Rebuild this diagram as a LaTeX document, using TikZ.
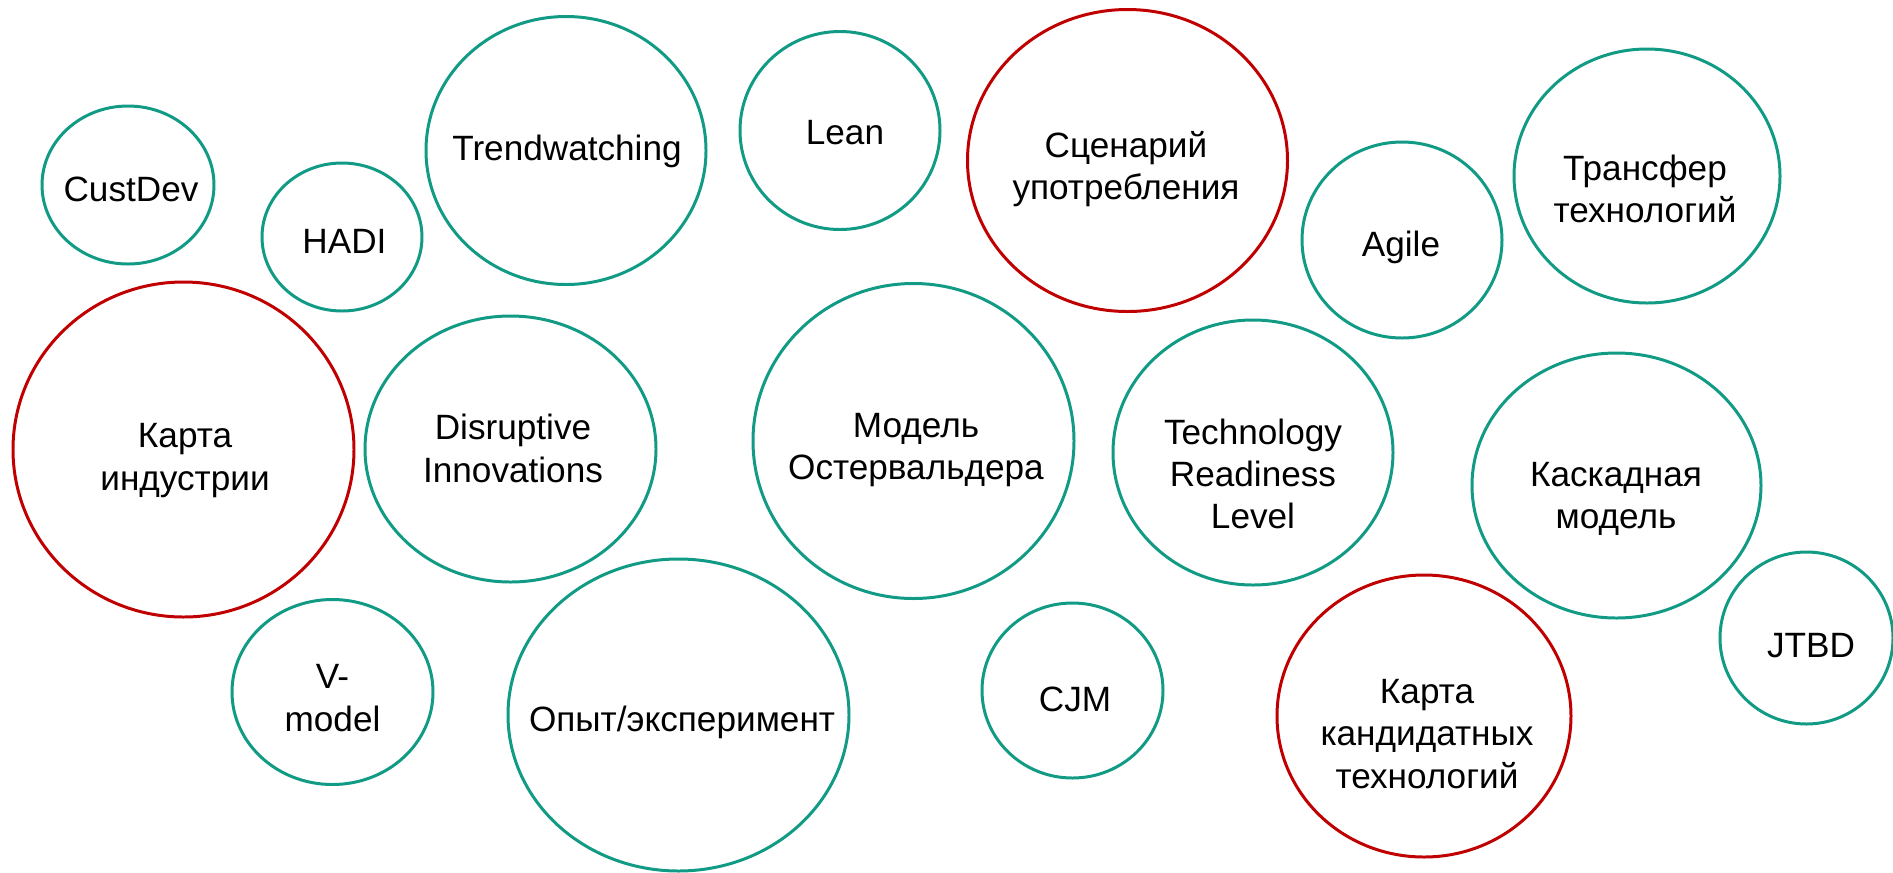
\documentclass[tikz,border=0pt]{standalone}
\usepackage{fontspec}
\setmainfont{Liberation Sans}
\definecolor{bubblegreen}{RGB}{17,154,132}
\definecolor{bubblered}{RGB}{192,0,0}

\begin{document}
\begin{tikzpicture}[x=0.01cm,y=-0.01cm,
  greenring/.style={draw=bubblegreen,line width=0.85pt},
  redring/.style={draw=bubblered,line width=0.85pt},
  word/.style={align=center,font=\fontsize{10}{12}\selectfont,inner sep=0pt}]
\useasboundingbox (0,0) rectangle (1893,872);
\draw[greenring] (128,185) ellipse (86 and 79);
\node[word] (custdev) at (131,189.5) {CustDev};
\draw[greenring] (342,237) ellipse (80 and 74);
\node[word] (hadi) at (344.5,241) {HADI};
\draw[greenring] (566,150.5) ellipse (140 and 134);
\node[word] (trend) at (567,151) {Trendwatching};
\draw[greenring] (840,130.5) ellipse (100 and 99);
\node[word] (lean) at (845,132.5) {Lean};
\draw[redring] (1127.5,160.5) ellipse (160 and 151);
\node[word] (usecase) at (1126,169) {Сценарий\\употребления};
\draw[greenring] (1402,240) ellipse (100 and 98);
\node[word] (agile) at (1401,247.5) {Agile};
\draw[greenring] (1647,176) ellipse (133 and 127);
\node[word] (transfer) at (1645,189) {Трансфер\\технологий};
\draw[redring] (183.5,449.5) ellipse (170.5 and 167.5);
\node[word] (industry) at (185,460.5) {Карта\\индустрии};
\draw[greenring] (510.5,449) ellipse (145.5 and 133);
\node[word] (disrupt) at (513,448.5) {Disruptive\\Innovations};
\draw[greenring] (913.5,441) ellipse (160.5 and 157.5);
\node[word] (canvas) at (916,450) {Модель\\Остервальдера};
\draw[greenring] (1253,452.5) ellipse (140 and 132.5);
\node[word] (trl) at (1253,474) {Technology\\Readiness\\Level};
\draw[greenring] (1616.5,485.5) ellipse (144.5 and 132.5);
\node[word] (waterfall) at (1616,499) {Каскадная\\модель};
\draw[greenring] (1806.5,638) ellipse (86.5 and 86);
\node[word] (jtbd) at (1811,645.5) {JTBD};
\draw[greenring] (332.5,692) ellipse (100.5 and 92.5);
\node[word] (vmodel) at (332.5,698) {V-\\model};
\draw[greenring] (678.5,715) ellipse (170.5 and 156);
\node[word] (experiment) at (682,722) {Опыт/эксперимент};
\draw[greenring] (1072.5,690.5) ellipse (90.5 and 87.5);
\node[word] (cjm) at (1075,699.5) {CJM};
\draw[redring] (1424,716) ellipse (147 and 141);
\node[word] (candidates) at (1427,734) {Карта\\кандидатных\\технологий};
\end{tikzpicture}
\end{document}
